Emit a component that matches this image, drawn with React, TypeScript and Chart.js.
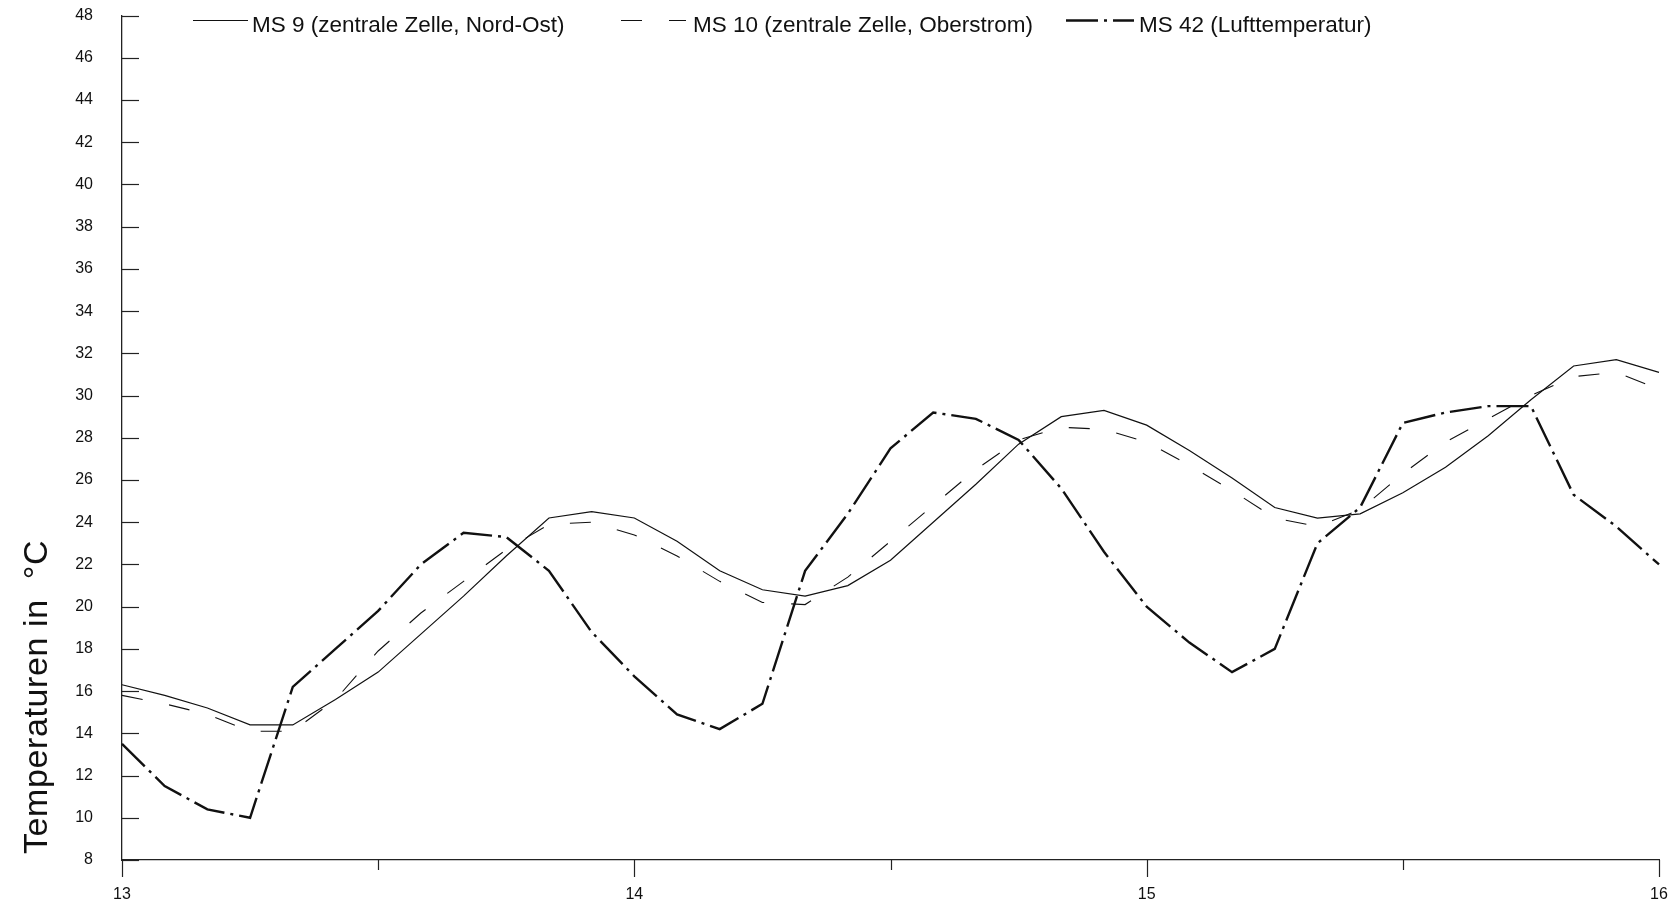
import React, { useEffect, useRef } from "react";
import { Chart, registerables } from "chart.js";

Chart.register(...registerables);

// Time axis: every 2 hours from day 13 to day 16
const timeLabels = [
  "13 00:00", "13 02:00", "13 04:00", "13 06:00", "13 08:00", "13 10:00",
  "13 12:00", "13 14:00", "13 16:00", "13 18:00", "13 20:00", "13 22:00",
  "14 00:00", "14 02:00", "14 04:00", "14 06:00", "14 08:00", "14 10:00",
  "14 12:00", "14 14:00", "14 16:00", "14 18:00", "14 20:00", "14 22:00",
  "15 00:00", "15 02:00", "15 04:00", "15 06:00", "15 08:00", "15 10:00",
  "15 12:00", "15 14:00", "15 16:00", "15 18:00", "15 20:00", "15 22:00",
  "16 00:00",
];

// MS 9 (zentrale Zelle, Nord-Ost)
const ms9 = [
  16.3, 15.8, 15.2, 14.4, 14.4, 15.6, 16.9, 18.7, 20.5, 22.4, 24.2, 24.5,
  24.2, 23.1, 21.7, 20.8, 20.5, 21.0, 22.2, 24.0, 25.8, 27.7, 29.0, 29.3,
  28.6, 27.4, 26.1, 24.7, 24.2, 24.4, 25.4, 26.6, 28.1, 29.8, 31.4, 31.7,
  31.1,
];

// MS 10 (zentrale Zelle, Oberstrom)
const ms10 = [
  15.8, 15.4, 14.9, 14.1, 14.1, 15.6, 17.9, 19.7, 21.2, 22.7, 23.9, 24.0,
  23.4, 22.4, 21.2, 20.2, 20.1, 21.4, 23.1, 24.8, 26.5, 27.9, 28.5, 28.4,
  27.8, 26.7, 25.5, 24.2, 23.8, 24.6, 26.3, 27.8, 28.9, 30.0, 30.9, 31.1,
  30.3,
];

// MS 42 (Lufttemperatur)
const ms42 = [
  13.5, 11.5, 10.4, 10.0, 16.2, 18.0, 19.8, 22.0, 23.5, 23.3, 21.7, 18.8,
  16.7, 14.9, 14.2, 15.4, 21.7, 24.4, 27.5, 29.2, 28.9, 27.9, 25.6, 22.6,
  20.0, 18.3, 16.9, 18.0, 23.0, 24.7, 28.7, 29.2, 29.5, 29.5, 25.3, 23.8,
  22.0,
];

const seriesNames = [
  "MS 9 (zentrale Zelle, Nord-Ost)",
  "MS 10 (zentrale Zelle, Oberstrom)",
  "MS 42 (Lufttemperatur)",
];

const yTitle = "Temperaturen in  °C";
const yMin = 8;
const yMax = 48;
const yStep = 2;

const INK = "#111111";
const FONT = "'Liberation Sans', Arial, sans-serif";

const decorPlugin = {
  id: "decor",
  afterDraw(chart: any) {
    const ctx = chart.ctx as CanvasRenderingContext2D;
    const area = chart.chartArea;
    const xs = chart.scales.x;
    const ys = chart.scales.y;
    ctx.save();
    ctx.strokeStyle = "#222222";
    ctx.lineWidth = 1.2;
    ctx.setLineDash([]);
    // inner ticks on y axis
    ys.ticks.forEach((t: any) => {
      const py = Math.round(ys.getPixelForValue(t.value)) + 0.5;
      ctx.beginPath();
      ctx.moveTo(area.left, py);
      ctx.lineTo(area.left + 17, py);
      ctx.stroke();
    });
    // outer ticks on x axis (days long, half days short)
    timeLabels.forEach((lbl, i) => {
      if (i % 6 !== 0) return;
      const px = Math.round(xs.getPixelForValue(i)) + 0.5;
      const len = lbl.endsWith("00:00") ? 17 : 10;
      ctx.beginPath();
      ctx.moveTo(px, area.bottom);
      ctx.lineTo(px, area.bottom + len);
      ctx.stroke();
    });

    // legend
    const samples = [
      [193, 248, 252],
      [621, 686, 693],
      [1066, 1134, 1139],
    ];
    chart.data.datasets.forEach((ds: any, i: number) => {
      const [x0, x1, tx] = samples[i];
      ctx.strokeStyle = ds.borderColor;
      ctx.lineWidth = ds.borderWidth;
      ctx.setLineDash(ds.borderDash || []);
      ctx.beginPath();
      ctx.moveTo(x0, 20.5);
      ctx.lineTo(x1, 20.5);
      ctx.stroke();
      ctx.setLineDash([]);
      ctx.fillStyle = INK;
      ctx.font = `22.5px ${FONT}`;
      ctx.textAlign = "left";
      ctx.textBaseline = "alphabetic";
      ctx.fillText(ds.label, tx, 32);
    });

    // y axis title
    ctx.translate(47, 854);
    ctx.rotate(-Math.PI / 2);
    ctx.fillStyle = INK;
    ctx.font = `34px ${FONT}`;
    (ctx as any).letterSpacing = "0.6px";
    ctx.textAlign = "left";
    ctx.textBaseline = "alphabetic";
    ctx.fillText(yTitle, 0, 0);
    ctx.restore();
  },
};

export default function App() {
  const canvasRef = useRef<HTMLCanvasElement | null>(null);

  useEffect(() => {
    const canvas = canvasRef.current;
    if (!canvas) return;
    const chart = new Chart(canvas, {
      type: "line",
      data: {
        labels: timeLabels,
        datasets: [
          {
            label: seriesNames[0],
            data: ms9,
            borderColor: INK,
            borderWidth: 1.2,
            pointRadius: 0,
            tension: 0,
            fill: false,
          },
          {
            label: seriesNames[1],
            data: ms10,
            borderColor: INK,
            borderWidth: 1.1,
            borderDash: [21, 27],
            pointRadius: 0,
            tension: 0,
            fill: false,
          },
          {
            label: seriesNames[2],
            data: ms42,
            borderColor: INK,
            borderWidth: 2.4,
            borderDash: [32, 6, 3, 6],
            pointRadius: 0,
            tension: 0,
            fill: false,
          },
        ],
      },
      options: {
        animation: false,
        responsive: false,
        events: [],
        layout: { padding: { left: 0, top: 15, right: 18, bottom: 0 } },
        plugins: {
          legend: { display: false },
          tooltip: { enabled: false },
          title: { display: false },
        },
        scales: {
          x: {
            type: "category",
            offset: false,
            grid: {
              display: true,
              drawOnChartArea: false,
              drawTicks: true,
              tickLength: 21,
              tickColor: "rgba(0,0,0,0)",
            },
            border: { display: true, color: "#222222", width: 1.3 },
            ticks: {
              autoSkip: false,
              maxRotation: 0,
              minRotation: 0,
              padding: 4,
              color: INK,
              font: { family: FONT, size: 16 },
              callback: (_v: any, index: number) => {
                const lbl = timeLabels[index];
                return lbl.endsWith("00:00") ? lbl.slice(0, 2) : "";
              },
            },
            afterFit: (s: any) => {
              s.height = 42;
            },
          },
          y: {
            type: "linear",
            min: yMin,
            max: yMax,
            grid: {
              display: true,
              drawOnChartArea: false,
              drawTicks: true,
              tickLength: 23,
              tickColor: "rgba(0,0,0,0)",
            },
            border: { display: true, color: "#222222", width: 1.3 },
            ticks: {
              stepSize: yStep,
              padding: 6,
              color: INK,
              font: { family: FONT, size: 16 },
            },
            afterFit: (s: any) => {
              s.width = 122;
            },
          },
        },
      },
      plugins: [decorPlugin],
    } as any);
    return () => chart.destroy();
  }, []);

  return (
    <div
      style={{
        position: "absolute",
        left: 0,
        top: 0,
        width: 1677,
        height: 902,
        background: "#ffffff",
      }}
    >
      <canvas
        ref={canvasRef}
        width={1677}
        height={902}
        style={{ display: "block", width: 1677, height: 902 }}
      />
    </div>
  );
}
